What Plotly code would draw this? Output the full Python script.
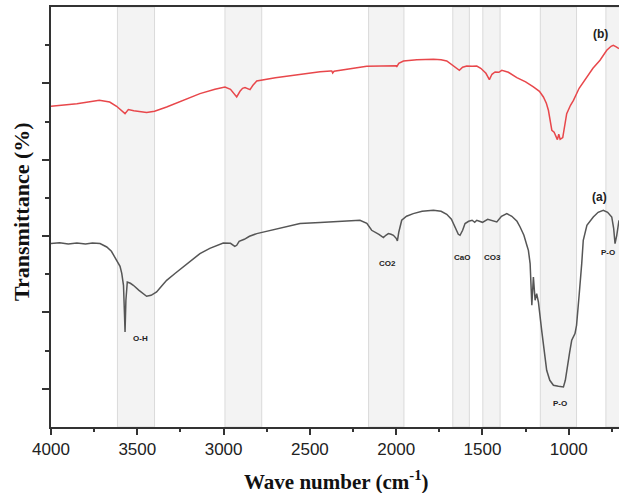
import plotly.graph_objects as go

# ---- data (wavenumber cm^-1, transmittance in arbitrary offset units) ----
PX = 38.18
BASE = 426.7

def v(py):
    return round((BASE - py) / PX, 3)

wn_b = [4000, 3850, 3720, 3660, 3620, 3590, 3571, 3552, 3520, 3446, 3400, 3330, 3230, 3137,
        3050, 2992, 2960, 2940, 2924, 2905, 2890, 2876, 2860, 2847, 2830, 2808, 2700, 2600,
        2500, 2441, 2380, 2373, 2368, 2360, 2171, 2050, 2000, 1997, 1985, 1958, 1880, 1784,
        1740, 1707, 1680, 1650, 1634, 1615, 1591, 1560, 1533, 1510, 1480, 1460, 1445, 1427,
        1405, 1388, 1350, 1301, 1250, 1205, 1170, 1147, 1130, 1118, 1105, 1098, 1085, 1072,
        1066, 1058, 1050, 1035, 1025, 1012, 990, 973, 940, 896, 860, 819, 780, 755, 742,
        725, 709]
py_b = [106, 103.5, 100, 101.7, 106, 110, 113.3, 109.3, 110.5, 112.3, 111, 106.7, 100, 93.3,
        89, 86.7, 89, 94, 96.7, 91, 88, 87.3, 88, 89.3, 85, 80.7, 77.5, 75,
        73, 71.5, 70.8, 70.7, 72.7, 71, 66, 66, 65.5, 66.5, 63, 60.7, 59.5, 59,
        59.5, 60.7, 64, 68, 70, 67, 65.7, 66, 65.7, 68, 73, 79.3, 74, 71.7,
        72, 70, 72, 77.3, 81.5, 86.7, 91, 96.7, 103, 110, 122, 130, 132, 136,
        139.3, 134, 139, 137.3, 125, 113.3, 105, 100, 88, 76.7, 68, 60, 50, 46, 45,
        46.5, 48.3]
trans_b = [v(p) for p in py_b]

wn_a = [4000, 3950, 3900, 3850, 3800, 3760, 3716, 3677, 3650, 3620, 3600, 3590, 3580, 3574,
        3571, 3566, 3558, 3540, 3523, 3490, 3446, 3420, 3388, 3360, 3330, 3280, 3233, 3180,
        3137, 3080, 3002, 2960, 2935, 2924, 2910, 2880, 2850, 2808, 2700, 2600, 2557, 2441,
        2300, 2210, 2170, 2142, 2100, 2074, 2060, 2045, 2030, 2016, 2000, 1993, 1985, 1968,
        1940, 1901, 1850, 1784, 1740, 1707, 1680, 1659, 1640, 1630, 1615, 1601, 1580, 1560,
        1545, 1533, 1515, 1500, 1470, 1440, 1417, 1390, 1359, 1330, 1300, 1282, 1260, 1243,
        1234, 1224, 1214, 1205, 1195, 1186, 1176, 1157, 1140, 1128, 1110, 1089, 1060, 1031,
        1020, 1012, 995, 983, 975, 964, 955, 950, 940, 925, 916, 895, 858, 830, 800, 775,
        751, 740, 732, 722, 709]
py_a = [243.3, 242.5, 243.8, 242.8, 243.6, 242.7, 243.3, 246.7, 251, 260, 266, 273, 285, 315,
        331.7, 300, 281.7, 283, 285, 290, 296, 295, 291.7, 286, 280, 273, 266.7, 259,
        253.3, 248, 242.7, 243, 246, 245, 241, 239, 236, 233.3, 229, 225.5, 223.3, 222.3,
        221, 220, 223, 230, 234, 237.3, 235, 233.3, 234, 235, 238, 240.7, 232, 220,
        216, 213.3, 211, 210, 211, 214, 219, 226.7, 234, 235, 230, 223.3, 221, 220,
        222, 220, 221.5, 222, 219, 221, 221.7, 216, 213.3, 216, 221, 226.7, 235, 245,
        250, 263.3, 305, 276.7, 300, 293.3, 301.7, 330, 355, 370, 380, 385, 386, 386.7,
        380, 370, 352, 340, 337, 333.3, 325, 316.7, 295, 263.3, 240, 225, 216.7, 212, 210, 212,
        216.7, 228, 243.3, 235, 220]
trans_a = [v(p) for p in py_a]

band_start = [3615, 2992, 2160, 1672, 1498, 1165, 785]
band_end = [3400, 2779, 1955, 1576, 1398, 955, 700]

peak_labels = ["O-H", "CO2", "CaO", "CO3", "P-O", "P-O"]
peak_x = [3484, 2051, 1620, 1440, 1050, 770]
peak_y = [2.32, 4.28, 4.44, 4.44, 0.61, 4.56]

series_labels = ["(b)", "(a)"]
series_label_x = [819, 823]
series_label_y = [10.30, 6.02]

x_ticks = [4000, 3500, 3000, 2500, 2000, 1500, 1000]
x_minor = [3750, 3250, 2750, 2250, 1750, 1250, 750]

# ---- figure ----
fig = go.Figure()

shapes = []
for s, e in zip(band_start, band_end):
    shapes.append(dict(type="rect", xref="x", yref="paper", x0=s, x1=e, y0=0, y1=1,
                       fillcolor="#f3f3f3", line=dict(color="#dadada", width=1), layer="below"))

fig.add_trace(go.Scatter(x=wn_a, y=trans_a, mode="lines",
                         line=dict(color="#565656", width=1.5), showlegend=False))
fig.add_trace(go.Scatter(x=wn_b, y=trans_b, mode="lines",
                         line=dict(color="#e8474b", width=1.5), showlegend=False))

annotations = []
for t, x, y in zip(peak_labels, peak_x, peak_y):
    annotations.append(dict(x=x, y=y, xref="x", yref="y", text="<b>%s</b>" % t, showarrow=False,
                            font=dict(family="Liberation Sans, Arial", size=8, color="#222")))
for t, x, y in zip(series_labels, series_label_x, series_label_y):
    annotations.append(dict(x=x, y=y, xref="x", yref="y", text="<b>%s</b>" % t, showarrow=False,
                            font=dict(family="Liberation Sans, Arial", size=12, color="#222")))
annotations.append(dict(x=0.502, y=-0.127, xref="paper", yref="paper", xanchor="center",
                        yanchor="middle", showarrow=False,
                        text="<b>Wave number (cm<sup>-1</sup>)</b>",
                        font=dict(family="Liberation Serif, Times New Roman", size=21, color="#111")))
annotations.append(dict(x=-0.053, y=0.514, xref="paper", yref="paper", xanchor="center",
                        yanchor="middle", showarrow=False, textangle=-90,
                        text="<b>Transmittance (%)</b>",
                        font=dict(family="Liberation Serif, Times New Roman", size=22, color="#111")))

fig.update_layout(
    width=619, height=493,
    margin=dict(l=51, r=0, t=7, b=66, autoexpand=False),
    paper_bgcolor="white", plot_bgcolor="white",
    shapes=shapes, annotations=annotations,
    xaxis=dict(
        range=[4000, 709], autorange=False, automargin=False,
        tickmode="array", tickvals=x_ticks, ticktext=[str(t) for t in x_ticks],
        ticks="outside", ticklen=6, tickwidth=1.5, tickcolor="#333",
        minor=dict(tickvals=x_minor, ticks="outside",
                   ticklen=3, tickwidth=1.5, tickcolor="#333"),
        showline=True, linecolor="#333", linewidth=2, mirror=True,
        showgrid=False, zeroline=False,
        tickfont=dict(family="Liberation Sans, Arial", size=17, color="#222"),
    ),
    yaxis=dict(
        range=[0, 11], autorange=False, automargin=False,
        tickmode="array", tickvals=[1, 3, 5, 7, 9], showticklabels=False,
        ticks="outside", ticklen=7, tickwidth=1.5, tickcolor="#333",
        minor=dict(tickvals=[2, 4, 6, 8, 10], ticks="outside", ticklen=4, tickwidth=1.5,
                   tickcolor="#333"),
        showline=True, linecolor="#333", linewidth=2,
        showgrid=False, zeroline=False,
    ),
)

fig.write_html("out.html", config={"displayModeBar": False},
               post_script="document.body.style.margin='0px';document.body.style.overflow='hidden';")
